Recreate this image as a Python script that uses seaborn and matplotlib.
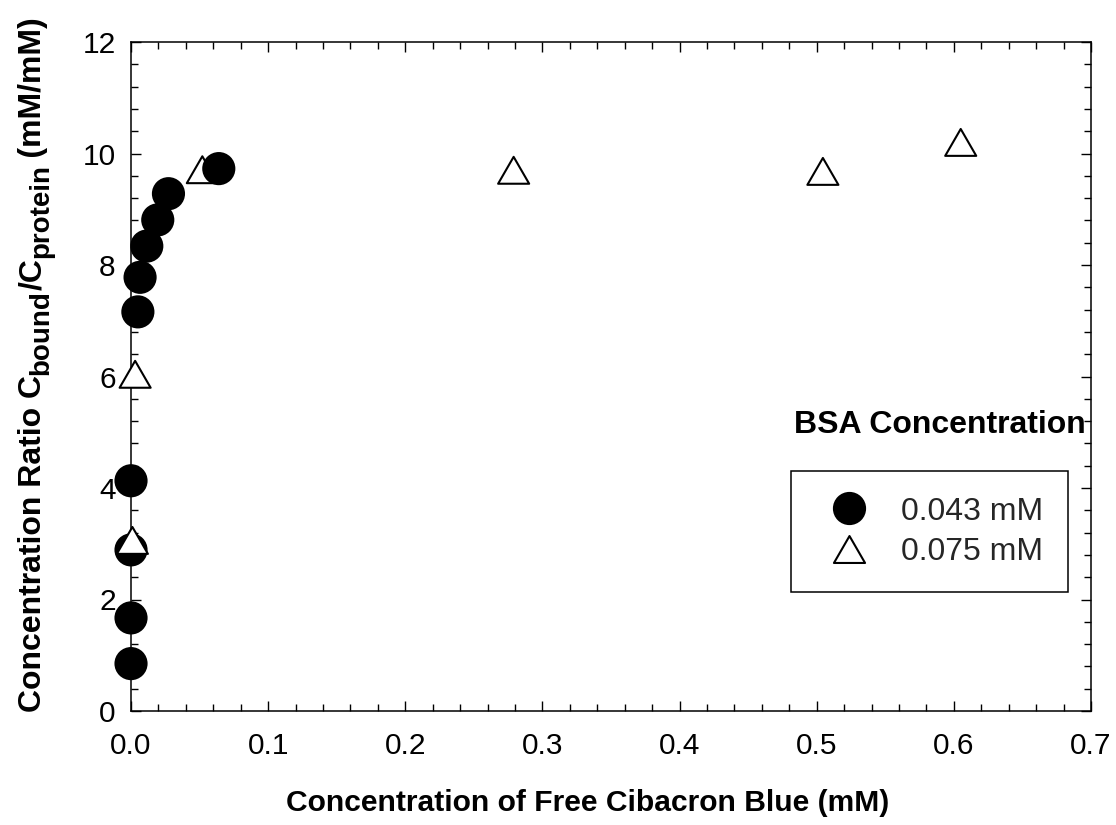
import numpy as np
import pandas as pd
import seaborn as sns
import matplotlib.pyplot as plt
from matplotlib.lines import Line2D
from matplotlib.path import Path
from matplotlib.ticker import MultipleLocator
from matplotlib.transforms import IdentityTransform

# values
circle_x = [0.0, 0.0, 0.0, 0.0, 0.005, 0.0066, 0.0115, 0.0195, 0.0273, 0.064]
circle_y = [0.85, 1.67, 2.89, 4.13, 7.16, 7.78, 8.34, 8.81, 9.28, 9.73]
triangle_x = [0.001, 0.003, 0.052, 0.279, 0.5045, 0.605]
triangle_y = [3.06, 6.04, 9.71, 9.70, 9.68, 10.2]
series_names = ['0.043 mM', '0.075 mM']
x_ticks = [0.0, 0.1, 0.2, 0.3, 0.4, 0.5, 0.6, 0.7]
y_ticks = [0, 2, 4, 6, 8, 10, 12]

sns.set_theme(style='ticks')
plt.rcParams['font.family'] = ['Liberation Sans', 'DejaVu Sans']

df = pd.concat([
    pd.DataFrame({'x': circle_x, 'y': circle_y, 'BSA': series_names[0]}),
    pd.DataFrame({'x': triangle_x, 'y': triangle_y, 'BSA': series_names[1]}),
], ignore_index=True)
# draw order as in the original: lower points first
df = df.sort_values('y', kind='stable')

tri = Path([(-1, -0.866), (1, -0.866), (0, 0.866), (-1, -0.866)], closed=True)
face = {series_names[0]: 'black', series_names[1]: 'white'}
marks = {series_names[0]: 'o', series_names[1]: tri}

fig = plt.figure(figsize=(11.16, 8.25), dpi=100)
ax = fig.add_axes([0.1174, 0.1382, 0.8602, 0.8108])

sns.scatterplot(data=df, x='x', y='y', hue='BSA', style='BSA', palette=face,
                markers=marks, s=500, edgecolor='black', linewidth=1.5,
                legend=False, clip_on=False, zorder=3, ax=ax)

ax.set_xlim(0, 0.7)
ax.set_ylim(0, 12)
ax.set_xticks(x_ticks)
ax.set_xticklabels([f'{t:.1f}' for t in x_ticks])
ax.set_yticks(y_ticks)
ax.set_yticklabels([str(t) for t in y_ticks])
ax.xaxis.set_minor_locator(MultipleLocator(0.02))
ax.yaxis.set_minor_locator(MultipleLocator(0.4))
ax.tick_params(which='both', direction='in', top=True, right=True,
               width=1.0, color='black', labelsize=21.5, labelcolor='black')
ax.tick_params(which='major', length=7.2)
ax.tick_params(which='minor', length=5)
ax.tick_params(axis='x', pad=15)
ax.tick_params(axis='y', pad=11)
for sp in ax.spines.values():
    sp.set_linewidth(1.1)
    sp.set_color('black')

ax.set_xlabel('Concentration of Free Cibacron Blue (mM)', fontsize=21.6,
              fontweight='bold', color='black')
ax.xaxis.set_label_coords(0.476, -0.1166)
ax.set_ylabel('')

# y label built from pieces so the subscripts keep their large size
renderer = fig.canvas.get_renderer()
ylab_parts = [('Concentration Ratio C', 23, 0),
              ('bound', 20, 7),
              ('/C', 23, 0),
              ('protein', 20, 7),
              ('\u2009(mM/mM)', 23, 0)]
ypos = 825 - 712
for txt, size, dx in ylab_parts:
    t = fig.text(41 + dx, ypos, txt, rotation=90, rotation_mode='anchor',
                 ha='left', va='baseline', fontsize=size, fontweight='bold',
                 color='black', transform=IdentityTransform())
    ypos += t.get_window_extent(renderer).height

handles = [
    Line2D([], [], linestyle='none', marker='o', markersize=22.4,
           markerfacecolor='black', markeredgecolor='black', markeredgewidth=1.5),
    Line2D([], [], linestyle='none', marker=tri, markersize=22.4,
           markerfacecolor='white', markeredgecolor='black', markeredgewidth=1.5),
]
leg = ax.legend(handles, series_names, loc='upper left', bbox_to_anchor=(0.688, 0.3587),
                fontsize=23, frameon=True, fancybox=False, framealpha=1,
                edgecolor='black', borderaxespad=0, borderpad=0.8,
                handlelength=2.0, handletextpad=0.62, labelspacing=0.32)
leg.get_frame().set_linewidth(1.1)
ax.text(0.843, 0.4275, 'BSA Concentration', transform=ax.transAxes, ha='center',
        va='center', fontsize=23, fontweight='bold', color='black')

plt.savefig('out.png', dpi=100)
plt.close()
